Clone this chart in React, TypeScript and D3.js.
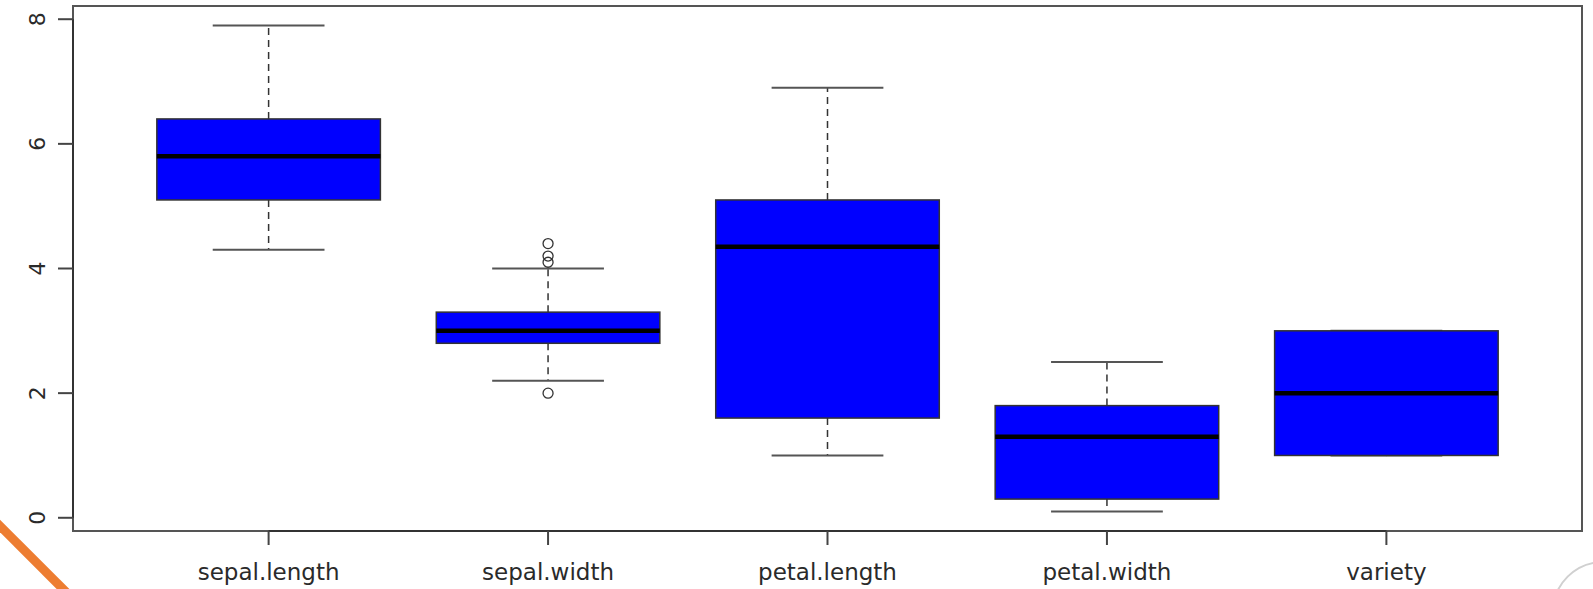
import * as d3 from "d3";

// iris summary (five-number stats as drawn by R's boxplot)
const categories = ["sepal.length", "sepal.width", "petal.length", "petal.width", "variety"];
const lowerWhisker = [4.3, 2.2, 1.0, 0.1, 1];
const q1 = [5.1, 2.8, 1.6, 0.3, 1];
const medians = [5.8, 3.0, 4.35, 1.3, 2];
const q3 = [6.4, 3.3, 5.1, 1.8, 3];
const upperWhisker = [7.9, 4.0, 6.9, 2.5, 3];
const outliers: [number, number][] = [
  [1, 4.4],
  [1, 4.1],
  [1, 4.2],
  [1, 2.0],
];
const yTicks = [0, 2, 4, 6, 8];

const W = 1593;
const H = 589;
const plot = { left: 73, right: 1582, top: 6, bottom: 531 };

const App = () => {
  // R pads xlim (0.5..5.5) and ylim by 4%
  const x = d3.scaleLinear().domain([0.3, 5.7]).range([plot.left, plot.right]);
  const y = d3.scaleLinear().domain([-0.212, 8.212]).range([plot.bottom, plot.top]);

  const boxHalf = x(0.4) - x(0);
  const stapleHalf = x(0.2) - x(0);
  const font = "'DejaVu Sans', sans-serif";

  return (
    <div style={{ position: "absolute", left: 0, top: 0 }}>
      <svg width={W} height={H} style={{ display: "block", background: "#fff" }}>
        {/* boxes */}
        {categories.map((c, i) => {
          const cx = x(i + 1);
          return (
            <g key={c}>
              <line
                x1={cx}
                x2={cx}
                y1={y(q3[i])}
                y2={y(upperWhisker[i])}
                stroke="#333"
                strokeWidth={1.5}
                strokeDasharray="7,5"
              />
              <line
                x1={cx}
                x2={cx}
                y1={y(q1[i])}
                y2={y(lowerWhisker[i])}
                stroke="#333"
                strokeWidth={1.5}
                strokeDasharray="7,5"
              />
              <line
                x1={cx - stapleHalf}
                x2={cx + stapleHalf}
                y1={y(upperWhisker[i])}
                y2={y(upperWhisker[i])}
                stroke="#555"
                strokeWidth={2}
              />
              <line
                x1={cx - stapleHalf}
                x2={cx + stapleHalf}
                y1={y(lowerWhisker[i])}
                y2={y(lowerWhisker[i])}
                stroke="#555"
                strokeWidth={2}
              />
              <rect
                x={cx - boxHalf}
                y={y(q3[i])}
                width={boxHalf * 2}
                height={y(q1[i]) - y(q3[i])}
                fill="#0000ff"
                stroke="#333"
                strokeWidth={1.5}
              />
              <line
                x1={cx - boxHalf}
                x2={cx + boxHalf}
                y1={y(medians[i])}
                y2={y(medians[i])}
                stroke="#000"
                strokeWidth={4.5}
              />
            </g>
          );
        })}

        {/* outliers */}
        {outliers.map(([gi, v], k) => (
          <circle
            key={k}
            cx={x(gi + 1)}
            cy={y(v)}
            r={5}
            fill="none"
            stroke="#333"
            strokeWidth={1.3}
          />
        ))}

        {/* frame */}
        <rect
          x={plot.left}
          y={plot.top}
          width={plot.right - plot.left}
          height={plot.bottom - plot.top}
          fill="none"
          stroke="#555"
          strokeWidth={2}
        />

        {/* y axis */}
        <line x1={plot.left} x2={plot.left} y1={y(0)} y2={y(8)} stroke="#333" strokeWidth={2} />
        {yTicks.map((t) => (
          <g key={t}>
            <line x1={plot.left - 15} x2={plot.left} y1={y(t)} y2={y(t)} stroke="#444" strokeWidth={2} />
            <text
              transform={`translate(${plot.left - 34},${y(t)}) rotate(-90)`}
              textAnchor="middle"
              dominantBaseline="middle"
              fontFamily={font}
              fontSize={22}
              fill="#2a2a2a"
            >
              {t}
            </text>
          </g>
        ))}

        {/* x axis */}
        <line x1={x(1)} x2={x(5)} y1={plot.bottom} y2={plot.bottom} stroke="#333" strokeWidth={2} />
        {categories.map((c, i) => (
          <g key={c}>
            <line x1={x(i + 1)} x2={x(i + 1)} y1={plot.bottom} y2={plot.bottom + 14} stroke="#444" strokeWidth={2} />
            <text
              x={x(i + 1)}
              y={580}
              textAnchor="middle"
              fontFamily={font}
              fontSize={23}
              fill="#2a2a2a"
            >
              {c}
            </text>
          </g>
        ))}

        {/* slide decorations */}
        <line x1={-20} y1={506} x2={90} y2={616} stroke="#ed7d31" strokeWidth={9} />
        <circle cx={1603} cy={612} r={50} fill="none" stroke="#d0d0d0" strokeWidth={2} />
      </svg>
    </div>
  );
};

export default App;
